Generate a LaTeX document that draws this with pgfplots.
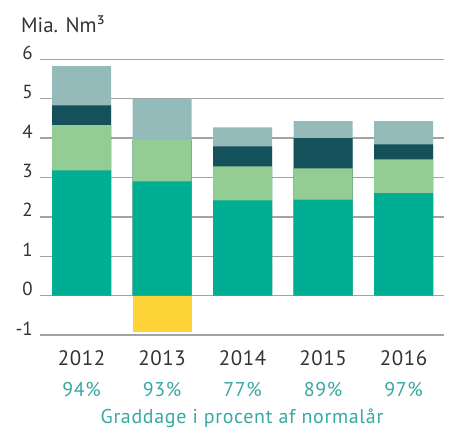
\documentclass[border=0pt]{standalone}
\usepackage{pgfplots}
\pgfplotsset{compat=1.18}
\usepackage{fontspec}
\setmainfont{PT Sans}
\definecolor{cteal}{HTML}{00AE94}
\definecolor{cgreen}{HTML}{93CD93}
\definecolor{cdark}{HTML}{15515A}
\definecolor{cgray}{HTML}{94BABA}
\definecolor{cyellow}{HTML}{FDD337}
\definecolor{cpct}{HTML}{38A8A2}
\definecolor{ctext}{HTML}{333333}
\definecolor{cgrid}{HTML}{A3A3A3}
\begin{document}
\begin{tikzpicture}[x=1bp,y=1bp]
\path[use as bounding box] (-40,-93) rectangle (421,335);
\begin{axis}[
  at={(0,0)}, anchor=south west,
  scale only axis, width=404bp, height=275.7bp,
  xmin=-0.516, xmax=4.503, ymin=-1, ymax=6,
  ybar, bar width=59bp,
  axis line style={draw=none},
  major tick style={draw=none},
  ymajorgrids, grid style={color=cgrid, line width=1.3bp},
  xtick={0,1,2,3,4}, xticklabels={2012,2013,2014,2015,2016},
  ytick={-1,0,1,2,3,4,5,6}, yticklabels={-1,0,1,2,3,4,5,6},
  xticklabel style={anchor=center, yshift=-19bp, font=\fontsize{21}{21}\selectfont\addfontfeature{LetterSpace=3}, text=ctext},
  yticklabel style={anchor=base east, inner sep=0pt, xshift=-7bp, font=\fontsize{19}{19}\selectfont, text=ctext},
  clip=false,
]
% cumulative tops, drawn largest first (opaque overlap = stack)
\addplot[bar shift=0pt, fill=cgray, draw=none] coordinates {(0,5.83) (1,5.00) (2,4.27) (3,4.43) (4,4.43)};
\addplot[bar shift=0pt, fill=cdark, draw=none] coordinates {(0,4.83) (1,3.95) (2,3.79) (3,4.00) (4,3.84)};
\addplot[bar shift=0pt, fill=cgreen, draw=none] coordinates {(0,4.33) (1,3.95) (2,3.28) (3,3.23) (4,3.46)};
\addplot[bar shift=0pt, fill=cteal, draw=none] coordinates {(0,3.18) (1,2.90) (2,2.42) (3,2.44) (4,2.60)};
\addplot[bar shift=0pt, fill=cyellow, draw=none] coordinates {(1,-0.93)};
\foreach \i/\p in {0/94,1/93,2/77,3/89,4/97}{
  \edef\tmp{\noexpand\node[anchor=center, text=cpct, font=\noexpand\fontsize{20}{20}\noexpand\selectfont\noexpand\addfontfeature{LetterSpace=3}] at (axis cs:\i,-1) [yshift=-55bp] {\p\noexpand\%};}
  \tmp
}
\node[anchor=center, text=cpct, font=\fontsize{20}{20}\selectfont\addfontfeature{LetterSpace=3.5}] at (rel axis cs:0.5,0) [yshift=-83bp] {Graddage i procent af normalår};
\node[anchor=base west, inner sep=0pt, text=ctext, font=\fontsize{21}{21}\selectfont] at (rel axis cs:0,1) [xshift=-19bp, yshift=27bp] {Mia. Nm³};
\end{axis}
\end{tikzpicture}
\end{document}
